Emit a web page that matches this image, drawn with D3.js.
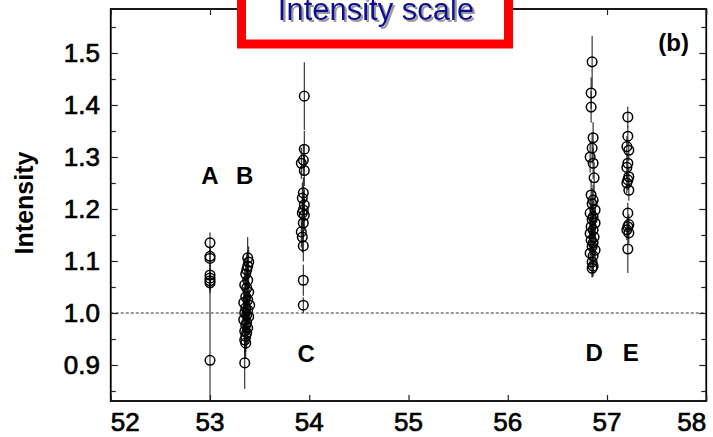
<!DOCTYPE html>
<html>
<head>
<meta charset="utf-8">
<script src="https://cdn.jsdelivr.net/npm/d3@7"></script>
<style>
  html, body { margin: 0; padding: 0; background: #fff; }
  svg { display: block; }
</style>
</head>
<body>
<svg id="chart" width="713" height="437"></svg>
<script>
// ---- data ----
const xTicks = [52, 53, 54, 55, 56, 57, 58];
const yTicks = [0.9, 1.0, 1.1, 1.2, 1.3, 1.4, 1.5];
const yMinorTicks = [0.85, 0.95, 1.05, 1.15, 1.25, 1.35, 1.45, 1.55];
const referenceLevel = 1.0;

// group A
const aX = [53.0, 53.0, 53.0, 53.0, 53.0, 53.0, 53.0, 53.0];
const aY = [1.135, 1.109, 1.105, 1.073, 1.067, 1.062, 1.058, 0.909];
const aErr = [0.02, 0.02, 0.02, 0.02, 0.02, 0.02, 0.02, 0.16];

// group B
const bX = [53.38, 53.39, 53.38, 53.37, 53.36, 53.38, 53.35, 53.37, 53.39, 53.36, 53.38, 53.34, 53.40, 53.36,
            53.38, 53.35, 53.37, 53.39, 53.34, 53.37, 53.36, 53.38, 53.35, 53.37, 53.36, 53.35, 53.36, 53.35];
const bY = [1.106, 1.098, 1.09, 1.083, 1.075, 1.063, 1.054, 1.048, 1.04, 1.031, 1.025, 1.02, 1.015, 1.01,
            1.006, 1.0, 0.996, 0.993, 0.987, 0.982, 0.977, 0.971, 0.965, 0.962, 0.955, 0.948, 0.942, 0.904];
const bErr = [0.04, 0.03, 0.03, 0.03, 0.03, 0.03, 0.03, 0.03, 0.03, 0.03, 0.03, 0.03, 0.03, 0.03,
              0.03, 0.03, 0.03, 0.03, 0.03, 0.03, 0.03, 0.03, 0.03, 0.03, 0.03, 0.03, 0.03, 0.05];

// group C
const cX = [53.95, 53.95, 53.94, 53.92, 53.95, 53.94, 53.93, 53.95, 53.94, 53.93, 53.95, 53.94, 53.92, 53.93, 53.94, 53.94, 53.94];
const cY = [1.417, 1.315, 1.294, 1.288, 1.274, 1.231, 1.221, 1.208, 1.198, 1.192, 1.188, 1.173, 1.156, 1.146, 1.129, 1.063, 1.015];
const cErr = [0.065, 0.035, 0.03, 0.03, 0.03, 0.03, 0.03, 0.03, 0.03, 0.03, 0.03, 0.03, 0.03, 0.03, 0.03, 0.03, 0.015];

// group D
const dX = [56.85, 56.84, 56.84, 56.86, 56.85, 56.83, 56.86, 56.87, 56.84, 56.86, 56.85, 56.88, 56.83, 56.86, 56.85,
            56.88, 56.84, 56.86, 56.83, 56.87, 56.84, 56.86, 56.85, 56.88, 56.83, 56.86, 56.85, 56.86, 56.85];
const dY = [1.483, 1.423, 1.396, 1.337, 1.317, 1.30, 1.288, 1.26, 1.227, 1.217, 1.21, 1.198, 1.192, 1.185, 1.18,
            1.173, 1.166, 1.16, 1.153, 1.146, 1.14, 1.135, 1.128, 1.121, 1.115, 1.11, 1.098, 1.09, 1.086];
const dErr = [0.05, 0.03, 0.03, 0.03, 0.03, 0.03, 0.03, 0.03, 0.03, 0.03, 0.03, 0.03, 0.03, 0.03, 0.03,
              0.03, 0.03, 0.03, 0.03, 0.03, 0.03, 0.03, 0.03, 0.03, 0.03, 0.03, 0.03, 0.02, 0.016];

// group E
const eX = [57.21, 57.21, 57.20, 57.22, 57.21, 57.20, 57.22, 57.21, 57.20, 57.22, 57.21, 57.22, 57.21, 57.20, 57.22, 57.21];
const eY = [1.377, 1.34, 1.32, 1.313, 1.288, 1.28, 1.262, 1.256, 1.25, 1.236, 1.192, 1.17, 1.166, 1.16, 1.154, 1.123];
const eErr = [0.02, 0.02, 0.02, 0.02, 0.02, 0.02, 0.02, 0.02, 0.02, 0.02, 0.02, 0.02, 0.02, 0.02, 0.02, 0.046];

const groupNames = ["A", "B", "C", "D", "E"];
const groupLabelX = [53.0, 53.35, 53.97, 56.87, 57.24];
const groupLabelY = [1.265, 1.265, 0.923, 0.925, 0.925];

const titleText = "Intensity scale";
const panelText = "(b)";
const yTitle = "Intensity";

// ---- drawing ----
const svg = d3.select("#chart");
const pL = 110.75, pR = 706.25, pT = 9, pB = 401;
const x = d3.scaleLinear().domain([52, 58]).range([pL, pR]);
const y = d3.scaleLinear().domain([1.0, 1.5]).range([313, 53]);
const fontFam = "'Liberation Sans', Arial, Helvetica, sans-serif";

const defs = svg.append("defs");
defs.append("clipPath").attr("id", "plotclip")
  .append("rect").attr("x", pL).attr("y", pT).attr("width", pR - pL).attr("height", pB - pT);
defs.append("filter").attr("id", "shadow").attr("x", "-10%").attr("y", "-30%").attr("width", "120%").attr("height", "160%")
  .append("feDropShadow").attr("dx", 2).attr("dy", 2).attr("stdDeviation", 0.6)
  .attr("flood-color", "#999").attr("flood-opacity", 1);

// Reference dashed line
svg.append("line")
  .attr("x1", pL).attr("x2", pR)
  .attr("y1", y(referenceLevel)).attr("y2", y(referenceLevel))
  .attr("stroke", "#333").attr("stroke-width", 1.1).attr("stroke-dasharray", "3,2");

const groups = [
  {xs: aX, ys: aY, es: aErr},
  {xs: bX, ys: bY, es: bErr},
  {xs: cX, ys: cY, es: cErr},
  {xs: dX, ys: dY, es: dErr},
  {xs: eX, ys: eY, es: eErr}
];
const pts = [];
groups.forEach((g, gi) => g.ys.forEach((v, i) => pts.push({g: gi, x: g.xs[i], y: v, e: g.es[i]})));

const plot = svg.append("g").attr("clip-path", "url(#plotclip)");
plot.selectAll("line.err").data(pts).join("line").attr("class", "err")
  .attr("x1", d => x(d.x)).attr("x2", d => x(d.x))
  .attr("y1", d => y(d.y - d.e)).attr("y2", d => y(d.y + d.e))
  .attr("stroke", "#111").attr("stroke-width", 1);

plot.selectAll("circle.pt").data(pts).join("circle").attr("class", "pt")
  .attr("cx", d => x(d.x)).attr("cy", d => y(d.y)).attr("r", 4.8)
  .attr("fill", "none").attr("stroke", "#000").attr("stroke-width", 1.5);

// Frame
svg.append("rect").attr("x", pL).attr("y", pT).attr("width", pR - pL).attr("height", pB - pT)
  .attr("fill", "none").attr("stroke", "#000").attr("stroke-width", 1.8);

// Axes (ticks inward)
const axL = d3.axisLeft(y).tickValues(yTicks).tickSize(-7).tickFormat("");
const axLm = d3.axisLeft(y).tickValues(yMinorTicks).tickSize(-5).tickFormat("");
const axR = d3.axisRight(y).tickValues(yTicks).tickSize(-7).tickFormat("");
const axRm = d3.axisRight(y).tickValues(yMinorTicks).tickSize(-5).tickFormat("");
const axB = d3.axisBottom(x).tickValues(xTicks).tickSize(-6).tickFormat("");
const axT = d3.axisTop(x).tickValues(xTicks).tickSize(-6).tickFormat("");
[[axL, `translate(${pL},0)`], [axLm, `translate(${pL},0)`], [axR, `translate(${pR},0)`],
 [axRm, `translate(${pR},0)`], [axB, `translate(0,${pB})`], [axT, `translate(0,${pT})`]]
  .forEach(([ax, tr]) => {
    const g = svg.append("g").attr("transform", tr).call(ax);
    g.select(".domain").remove();
    g.selectAll(".tick line").attr("stroke", "#222").attr("stroke-width", 1.2);
  });

// Tick labels
svg.append("g").selectAll("text").data(yTicks).join("text")
  .attr("x", 100).attr("y", d => y(d)).attr("dy", "0.36em")
  .attr("text-anchor", "end").attr("font-family", fontFam).attr("font-size", 26)
  .attr("fill", "#000").attr("stroke", "#000").attr("stroke-width", 0.7)
  .text(d => d.toFixed(1));

svg.append("g").selectAll("text").data(xTicks).join("text")
  .attr("x", d => x(d)).attr("y", 431)
  .attr("text-anchor", (d, i) => i === 0 ? "start" : (i === xTicks.length - 1 ? "end" : "middle"))
  .attr("font-family", fontFam).attr("font-size", 26).attr("fill", "#000")
  .attr("stroke", "#000").attr("stroke-width", 0.7)
  .text(d => d);

// Y title
svg.append("text").attr("transform", `translate(33,${203}) rotate(-90)`)
  .attr("text-anchor", "middle").attr("font-family", fontFam).attr("font-size", 25)
  .attr("font-weight", "bold").text(yTitle);

// Group labels
svg.append("g").selectAll("text").data(groupNames).join("text")
  .attr("x", (d, i) => x(groupLabelX[i])).attr("y", (d, i) => y(groupLabelY[i])).attr("dy", "0.36em")
  .attr("text-anchor", "middle").attr("font-family", fontFam).attr("font-size", 24)
  .attr("font-weight", "bold").text(d => d);

// Panel label
svg.append("text").attr("x", 689).attr("y", 51).attr("text-anchor", "end")
  .attr("font-family", fontFam).attr("font-size", 24).attr("font-weight", "bold").text(panelText);

// Title box
svg.append("rect").attr("x", 241.5).attr("y", -10).attr("width", 267).attr("height", 54)
  .attr("fill", "#fff").attr("stroke", "#ff0000").attr("stroke-width", 9);
svg.append("text").attr("x", 376).attr("y", 20).attr("text-anchor", "middle")
  .attr("font-family", fontFam).attr("font-size", 31).attr("fill", "#0a0a96")
  .attr("filter", "url(#shadow)").text(titleText);
</script>
</body>
</html>
